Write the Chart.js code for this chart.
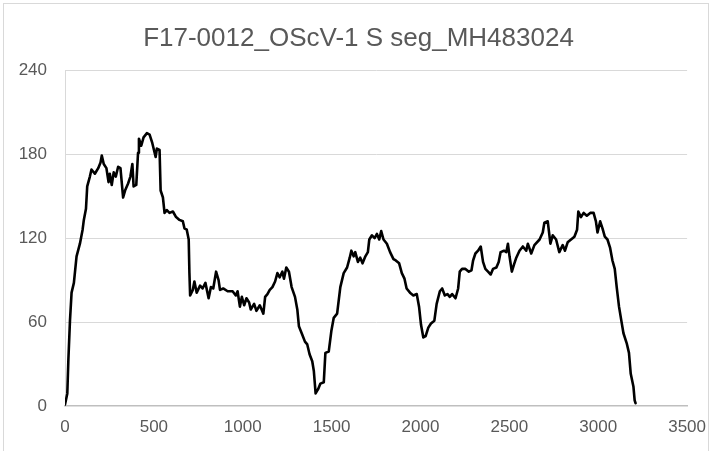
<!DOCTYPE html>
<html>
<head>
<meta charset="utf-8">
<script src="https://cdn.jsdelivr.net/npm/chart.js@4.4.1/dist/chart.umd.min.js"></script>
<style>
  html, body { margin: 0; padding: 0; background: #ffffff; }
  #wrap { position: relative; width: 717px; height: 451px; overflow: hidden; background: #ffffff; }
  #c { position: absolute; left: 0; top: 0; }
  #frame { position: absolute; left: 3px; top: 3px; width: 704px; height: 470px; border: 1px solid #d9d9d9; pointer-events: none; }
</style>
</head>
<body>
<div id="wrap">
  <canvas id="c" width="717" height="451"></canvas>
  <div id="frame"></div>
</div>
<script>
const chartTitle = "F17-0012_OScV-1 S seg_MH483024";

const positions = [
  0, 13, 19, 28, 37, 50, 65, 84, 99, 106, 118, 125, 140, 149, 168, 187, 200, 207, 218, 233,
  245, 252, 263, 274, 286, 299, 312, 327, 338, 355, 368, 379, 386, 401, 411, 416, 429, 442, 461, 476,
  491, 510, 517, 532, 538, 551, 560, 573, 588, 607, 625, 644, 663, 672, 685, 696, 700, 704, 719, 728,
  741, 760, 774, 790, 808, 821, 834, 850, 864, 872, 890, 915, 943, 961, 971, 984, 995, 1008, 1021, 1036,
  1045, 1064, 1077, 1096, 1116, 1126, 1139, 1152, 1167, 1182, 1195, 1208, 1223, 1232, 1245, 1260, 1275, 1294, 1307, 1316,
  1335, 1350, 1363, 1376, 1391, 1400, 1410, 1424, 1437, 1456, 1465, 1484, 1499, 1512, 1531, 1549, 1568, 1587, 1602, 1611,
  1624, 1633, 1648, 1661, 1674, 1690, 1704, 1712, 1727, 1742, 1755, 1768, 1779, 1792, 1811, 1829, 1848, 1861, 1880, 1895,
  1910, 1922, 1941, 1960, 1979, 1992, 2003, 2016, 2029, 2044, 2059, 2078, 2091, 2109, 2122, 2137, 2152, 2165, 2178, 2197,
  2212, 2221, 2234, 2253, 2272, 2287, 2296, 2309, 2324, 2339, 2352, 2365, 2380, 2395, 2408, 2427, 2440, 2451, 2470, 2483,
  2492, 2501, 2514, 2526, 2539, 2557, 2576, 2595, 2604, 2623, 2641, 2670, 2688, 2697, 2716, 2731, 2744, 2763, 2781, 2800,
  2813, 2828, 2847, 2866, 2881, 2888, 2903, 2918, 2936, 2955, 2974, 2987, 2996, 3011, 3024, 3037, 3052, 3067, 3080, 3093,
  3104, 3117, 3130, 3142, 3160, 3173, 3183, 3198, 3205, 3210
];

const coverage = [
  1, 9, 33, 61, 81, 88, 107, 116, 126, 133, 141, 157, 164, 169, 166, 170, 174, 179, 173, 170,
  160, 166, 158, 167, 164, 171, 170, 149, 154, 159, 164, 173, 157, 158, 181, 191, 186, 192, 195, 194,
  188, 178, 184, 183, 154, 149, 138, 140, 138, 139, 135, 133, 132, 127, 126, 119, 95, 79, 83, 89,
  81, 86, 84, 88, 77, 85, 84, 96, 90, 83, 84, 82, 82, 79, 82, 71, 78, 72, 77, 74,
  69, 73, 68, 72, 66, 78, 80, 83, 85, 89, 95, 92, 96, 91, 99, 96, 85, 78, 69, 57,
  51, 46, 44, 37, 32, 25, 9, 12, 16, 17, 38, 39, 54, 63, 66, 85, 95, 99, 106, 111,
  107, 110, 103, 106, 102, 107, 110, 119, 122, 120, 123, 119, 125, 119, 116, 110, 105, 104, 102, 95,
  91, 84, 81, 79, 80, 71, 58, 49, 50, 56, 59, 61, 73, 82, 84, 79, 80, 78, 80, 77,
  84, 96, 98, 98, 96, 97, 104, 109, 111, 114, 103, 98, 96, 94, 98, 99, 103, 110, 111, 110,
  116, 107, 96, 101, 106, 111, 114, 111, 116, 109, 115, 119, 124, 131, 132, 116, 122, 119, 110, 115,
  111, 117, 119, 121, 126, 139, 135, 138, 136, 138, 138, 132, 124, 132, 127, 121, 119, 113, 104, 98,
  85, 71, 61, 52, 45, 38, 23, 14, 4, 2
];

const xTickValues = [0, 500, 1000, 1500, 2000, 2500, 3000, 3500];
const yTickValues = [0, 60, 120, 180, 240];

const textColor = '#595959';
const fontFamily = "'Liberation Sans', Arial, sans-serif";

const points = positions.map((p, i) => ({ x: p, y: coverage[i] }));

new Chart(document.getElementById('c'), {
  type: 'line',
  data: {
    datasets: [{
      data: points,
      borderColor: '#000000',
      borderWidth: 2.6,
      borderJoinStyle: 'round',
      borderCapStyle: 'round',
      pointRadius: 0,
      tension: 0,
      fill: false,
      yAxisID: 'y'
    }]
  },
  options: {
    responsive: false,
    animation: false,
    devicePixelRatio: 1,
    layout: { padding: 0 },
    plugins: {
      legend: { display: false },
      tooltip: { enabled: false },
      title: {
        display: true,
        text: chartTitle,
        color: textColor,
        font: { family: fontFamily, size: 26, weight: 'normal' },
        padding: { top: 23, bottom: 16 }
      }
    },
    scales: {
      x: {
        type: 'linear',
        min: 0,
        max: 3500,
        afterBuildTicks: s => { s.ticks = xTickValues.map(v => ({ value: v })); },
        afterFit: s => { s.height = 45; },
        grid: { display: false, drawTicks: false },
        border: { display: true, color: '#bfbfbf', width: 1.5 },
        ticks: {
          color: textColor,
          font: { family: fontFamily, size: 17 },
          padding: 11,
          maxRotation: 0,
          autoSkip: false,
          callback: v => String(v)
        }
      },
      y: {
        type: 'linear',
        position: 'left',
        min: 0,
        max: 240,
        afterBuildTicks: s => { s.ticks = yTickValues.map(v => ({ value: v })); },
        afterFit: s => { s.width = 65; },
        grid: {
          display: true,
          drawTicks: false,
          color: ctx => (ctx.tick && ctx.tick.value === 0) ? 'rgba(0,0,0,0)' : '#d9d9d9',
          lineWidth: 1
        },
        border: { display: true, color: '#d9d9d9', width: 1 },
        ticks: {
          color: textColor,
          font: { family: fontFamily, size: 17 },
          padding: 18,
          autoSkip: false,
          callback: v => String(v)
        }
      },
      spacer: {
        type: 'linear',
        position: 'right',
        display: true,
        min: 0,
        max: 1,
        afterFit: s => { s.width = 27; },
        grid: { display: false, drawTicks: false },
        border: { display: false },
        ticks: { display: false }
      }
    }
  }
});
</script>
</body>
</html>
